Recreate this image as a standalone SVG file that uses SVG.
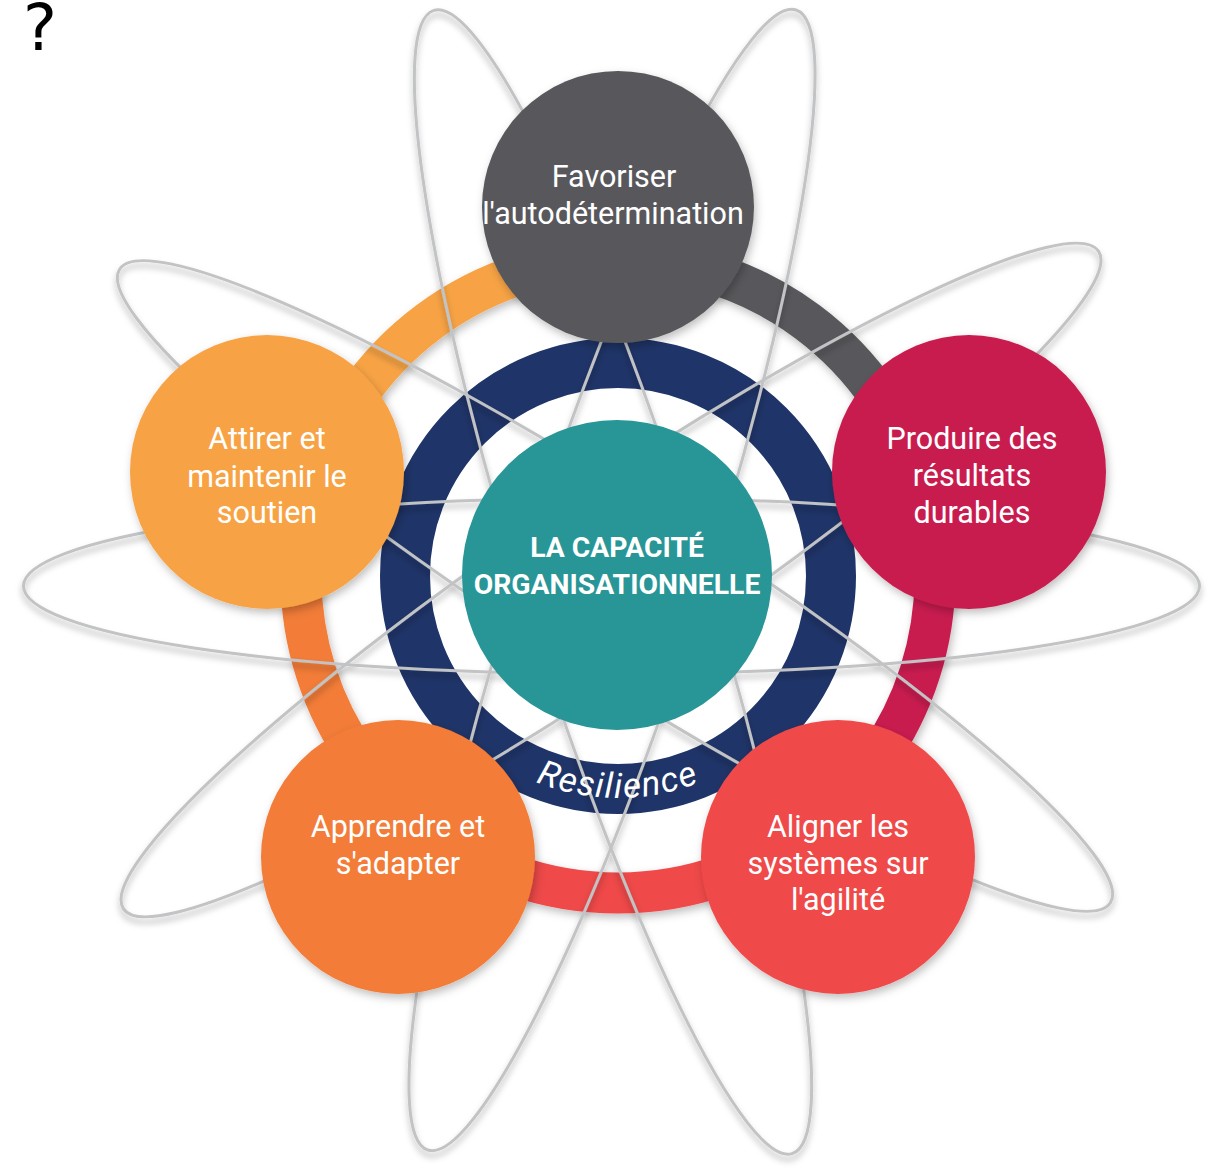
<svg xmlns="http://www.w3.org/2000/svg" xmlns:xlink="http://www.w3.org/1999/xlink" width="1215" height="1168" viewBox="0 0 1215 1168">
<defs>
<style>
.orbit{fill:none;stroke:#c2c3c5;stroke-width:3;}
.arc{fill:none;stroke-width:41;}
.lbl{font-family:Roboto,"Liberation Sans",sans-serif;font-size:30.5px;fill:#ffffff;text-anchor:middle;}
.ctr{font-family:Roboto,"Liberation Sans",sans-serif;font-size:28.3px;font-weight:700;fill:#ffffff;text-anchor:middle;}
</style>
<filter id="lineShadow" x="-10%" y="-10%" width="120%" height="120%">
<feDropShadow dx="0" dy="5" stdDeviation="3" flood-color="#000" flood-opacity="0.3"/>
</filter>
<filter id="nodeShadow" x="-20%" y="-20%" width="140%" height="140%">
<feDropShadow dx="2" dy="4" stdDeviation="4" flood-color="#000" flood-opacity="0.25"/>
</filter>
<path id="resPath" d="M409.4,651.9 A222,222 0 0 0 826.6,651.9"/>
</defs>
<rect width="1215" height="1168" fill="#ffffff"/>
<text x="23" y="50" font-family="DejaVu Sans, Liberation Sans, sans-serif" font-size="64" fill="#000">?</text>

<g id="connectors">
<g id="outer-ring" filter="url(#nodeShadow)">
<path class="arc" stroke="#58595b" d="M618,259 A317,317 0 0 1 922,486"/>
<path class="arc" stroke="#c81f4f" d="M922,486 A317,317 0 0 1 813.6,825.4"/>
<path class="arc" stroke="#ef4a4a" d="M813.6,825.4 A317,317 0 0 1 422.4,825.4"/>
<path class="arc" stroke="#f27b37" d="M422.4,825.4 A317,317 0 0 1 314,486"/>
<path class="arc" stroke="#f7a345" d="M314,486 A317,317 0 0 1 618,259"/>
</g>
<g id="resilience-ring">
<circle cx="618" cy="576" r="213" fill="none" stroke="#1f3468" stroke-width="50"/>
</g>
<g id="orbits" filter="url(#lineShadow)">
<ellipse class="orbit" cx="611.5" cy="586" rx="588" ry="88"/>
<ellipse class="orbit" cx="615" cy="586" rx="588" ry="88" transform="rotate(32.6 615 586)"/>
<ellipse class="orbit" cx="613" cy="582" rx="599" ry="90" transform="rotate(72.6 613 582)"/>
<ellipse class="orbit" cx="612" cy="580" rx="599" ry="90" transform="rotate(107.9 612 580)"/>
<ellipse class="orbit" cx="611" cy="580" rx="588" ry="88" transform="rotate(146 611 580)"/>
</g>
</g>

<g id="resilience-label">
<text font-family="Roboto, 'Liberation Sans', sans-serif" font-size="35" font-style="italic" fill="#ffffff" letter-spacing="1.5" text-anchor="middle"><textPath xlink:href="#resPath" href="#resPath" startOffset="50%">Resilience</textPath></text>
</g>

<g id="node-top">
<circle cx="618" cy="207" r="136" fill="#58595b" filter="url(#nodeShadow)"/>
<text class="lbl" x="614" y="187">Favoriser</text>
<text class="lbl" x="613" y="224">l'autodétermination</text>
</g>
<g id="node-right">
<circle cx="969" cy="472" r="137" fill="#c81f4f" filter="url(#nodeShadow)"/>
<text class="lbl" x="972" y="449">Produire des</text>
<text class="lbl" x="972" y="486">résultats</text>
<text class="lbl" x="972" y="523">durables</text>
</g>
<g id="node-bottom-right">
<circle cx="838" cy="857" r="137" fill="#ef4a4a" filter="url(#nodeShadow)"/>
<text class="lbl" x="838" y="837">Aligner les</text>
<text class="lbl" x="838" y="874">systèmes sur</text>
<text class="lbl" x="838" y="910">l'agilité</text>
</g>
<g id="node-bottom-left">
<circle cx="398" cy="857" r="137" fill="#f27b37" filter="url(#nodeShadow)"/>
<text class="lbl" x="398" y="837">Apprendre et</text>
<text class="lbl" x="398" y="874">s'adapter</text>
</g>
<g id="node-left">
<circle cx="267" cy="472" r="137" fill="#f7a345" filter="url(#nodeShadow)"/>
<text class="lbl" x="267" y="449">Attirer et</text>
<text class="lbl" x="267" y="487">maintenir le</text>
<text class="lbl" x="267" y="523">soutien</text>
</g>
<g id="node-center">
<circle cx="617" cy="575" r="155" fill="#289597"/>
<text class="ctr" x="617" y="557">LA CAPACITÉ</text>
<text class="ctr" x="617" y="594">ORGANISATIONNELLE</text>
</g>
</svg>
